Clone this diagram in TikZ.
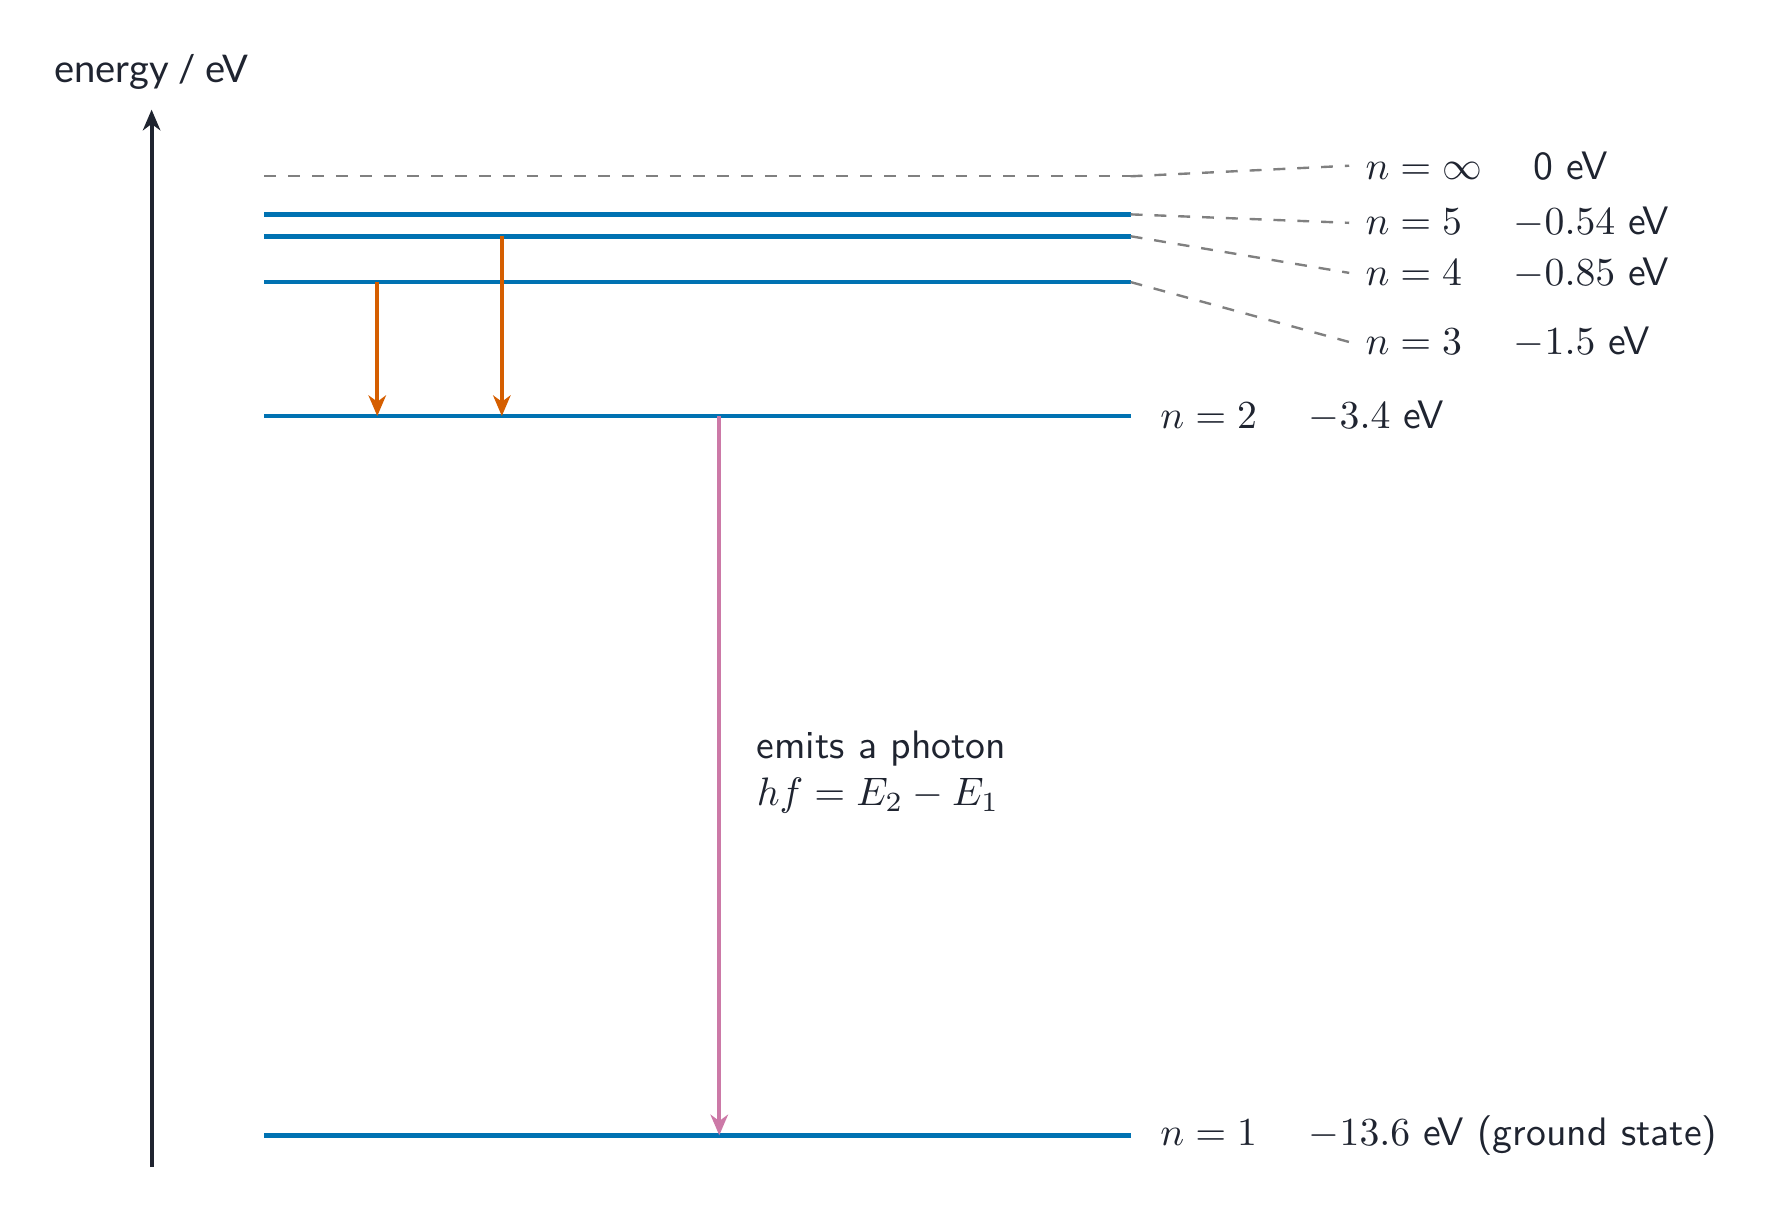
\documentclass[tikz,border=0pt]{standalone}
\usepackage{fontspec}
\newfontfamily\latofont{Lato}
\usepackage{amsmath}
\usepackage{tikz}
\usetikzlibrary{arrows.meta,positioning}

\definecolor{ink}{HTML}{1F2430}
\definecolor{levelblue}{HTML}{0072B2}
\definecolor{decayorange}{HTML}{D55E00}
\definecolor{photonpink}{HTML}{CC79A7}

\begin{document}
\begin{tikzpicture}[x=1.04cm, y=0.624cm, color=ink, font=\sffamily,
    level/.style={draw=levelblue, line width=1.2pt},
    leader/.style={draw=gray, dashed, line width=0.6pt},
    tip/.style={-{Stealth[length=5.2pt,width=4.4pt,inset=1.6pt]}},
    decay/.style={draw=decayorange, line width=1.1pt, tip},
    photon/.style={draw=photonpink, line width=1pt, tip}]
  \useasboundingbox (-1.29,-14.59) rectangle (13.83,2.50);

  % energy axis
  \coordinate (ax0) at (0,-14.05);
  \coordinate (ax1) at (0,0.945);
  \draw[line width=1pt, tip] (ax0) -- (ax1);
  \node[font=\latofont\fontsize{9.6}{11}\selectfont] (axlabel) at (0,1.48) {energy / eV};

  % levels
  \coordinate (Linf) at (0.96,0);     \coordinate (Rinf) at (8.33,0);
  \coordinate (L5) at (0.96,-0.54);   \coordinate (R5) at (8.33,-0.54);
  \coordinate (L4) at (0.96,-0.85);   \coordinate (R4) at (8.33,-0.85);
  \coordinate (L3) at (0.96,-1.5);    \coordinate (R3) at (8.33,-1.5);
  \coordinate (L2) at (0.96,-3.4);    \coordinate (R2) at (8.33,-3.4);
  \coordinate (L1) at (0.96,-13.6);   \coordinate (R1) at (8.33,-13.6);
  \draw[leader] (Linf) -- (Rinf);
  \draw[level] (L5) -- (R5);
  \draw[level] (L4) -- (R4);
  \draw[level] (L3) -- (R3);
  \draw[level] (L2) -- (R2);
  \draw[level] (L1) -- (R1);

  % leaders to the crowded labels
  \coordinate (Tinf) at (10.19,0.15);
  \coordinate (T5) at (10.19,-0.66);
  \coordinate (T4) at (10.19,-1.37);
  \coordinate (T3) at (10.19,-2.35);
  \draw[leader] (Rinf) -- (Tinf);
  \draw[leader] (R5) -- (T5);
  \draw[leader] (R4) -- (T4);
  \draw[leader] (R3) -- (T3);

  \node[right=0.2mm of Tinf] (ninf) {$n=\infty$\hspace{1.3em}0 eV};
  \node[right=0.2mm of T5] (n5) {$n=5$\hspace{1.3em}$-0.54$ eV};
  \node[right=0.2mm of T4] (n4) {$n=4$\hspace{1.3em}$-0.85$ eV};
  \node[right=0.2mm of T3] (n3) {$n=3$\hspace{1.3em}$-1.5$ eV};
  \node[right=1.4mm of R2] (n2) {$n=2$\hspace{1.3em}$-3.4$ eV};
  \node[right=1.4mm of R1] (n1) {$n=1$\hspace{1.3em}$-13.6$ eV (ground state)};

  % transitions
  \coordinate (a3) at (1.92,-1.5);  \coordinate (a32) at (1.92,-3.4);
  \coordinate (a4) at (2.98,-0.85); \coordinate (a42) at (2.98,-3.4);
  \draw[decay] (a3) -- (a32);
  \draw[decay] (a4) -- (a42);

  \coordinate (p2) at (4.83,-3.4);
  \coordinate (p1) at (4.83,-13.6);
  \draw[photon] (p2) -- (p1);
  \node[align=left, anchor=west] (emits) at (5.03,-8.45)
    {emits a photon\\ $hf = E_2 - E_1$};
\end{tikzpicture}
\end{document}
